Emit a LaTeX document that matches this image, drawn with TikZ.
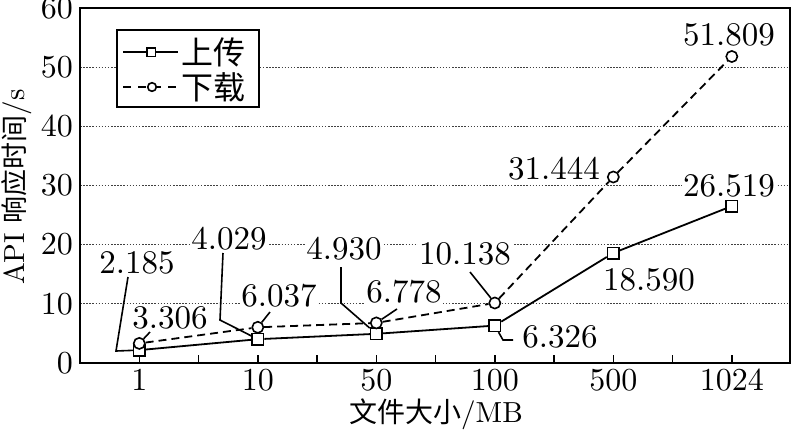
\documentclass[tikz,border=0pt]{standalone}
\usepackage{fontspec}
\setmainfont{lmroman10-regular.otf}[BoldFont=lmroman10-bold.otf]
\newfontfamily\cjk{Noto Sans CJK SC}
\begin{document}
\begin{tikzpicture}[x=1pt,y=-1pt,
  num/.style={font=\fontsize{33}{36}\selectfont, inner sep=1pt, fill=white},
  ticklab/.style={font=\fontsize{32}{36}\selectfont, inner sep=0pt},
  axtitle/.style={font=\fontsize{29}{32}\selectfont, inner sep=0pt},
  sqmark/.style={draw, rectangle, fill=white, minimum size=11.4pt, inner sep=0pt, line width=1.6pt},
  cimark/.style={draw, circle, fill=white, minimum size=11.2pt, inner sep=0pt, line width=1.6pt},
  gridline/.style={line width=0.9pt, dash pattern=on 1.5pt off 1.6pt, black!75},
  upline/.style={line width=1.8pt},
  downline/.style={line width=1.8pt, dash pattern=on 8pt off 5pt},
  leader/.style={line width=1.6pt},
  frame/.style={line width=2pt}]
\useasboundingbox (0,0) rectangle (792,429);

% grid
\foreach \v in {10,20,30,40,50}{
  \draw[gridline] (80,{363-\v*5.9167}) -- (789.5,{363-\v*5.9167});
}

% y tick labels
\foreach \v in {0,10,20,30,40,50,60}{
  \node[ticklab, anchor=east] (yl\v) at (73,{363-\v*5.9167}) {\v};
}
% x tick labels
\node[ticklab] (x1) at (139.3,380) {1};
\node[ticklab] (x2) at (257.8,380) {10};
\node[ticklab] (x3) at (376.3,380) {50};
\node[ticklab] (x4) at (494.8,380) {100};
\node[ticklab] (x5) at (613.3,380) {500};
\node[ticklab] (x6) at (731.8,380) {1024};

% axis titles
\node[axtitle, rotate=90] (ytitle) at (17,187) {API {\cjk\fontsize{27}{30}\selectfont 响应时间}/s};
\node[axtitle, anchor=base] (xtitle) at (436,422) {{\cjk\fontsize{28}{30}\selectfont 文件大小}/MB};

% data labels
\node[num] (l1) at (137,263) {2.185};
\node[num] (l2) at (170,318) {3.306};
\node[num] (l3) at (229,239) {4.029};
\node[num] (l4) at (279,296) {6.037};
\node[num] (l5) at (344,249) {4.930};
\node[num] (l6) at (404,292) {6.778};
\node[num] (l7) at (465,254) {10.138};
\node[num] (l8) at (560,337) {6.326};
\node[num] (l9) at (649,280) {18.590};
\node[num] (l10) at (554,169) {31.444};
\node[num] (l11) at (729,186) {26.519};
\node[num] (l12) at (729,35) {51.809};

% markers: upload (squares)
\node[sqmark] (u1) at (139.3,350.1) {};
\node[sqmark] (u2) at (257.8,339.2) {};
\node[sqmark] (u3) at (376.3,333.8) {};
\node[sqmark] (u4) at (494.8,325.6) {};
\node[sqmark] (u5) at (613.3,253.0) {};
\node[sqmark] (u6) at (731.8,206.1) {};
% markers: download (circles)
\node[cimark] (d1) at (139.3,343.4) {};
\node[cimark] (d2) at (257.8,327.3) {};
\node[cimark] (d3) at (376.3,322.9) {};
\node[cimark] (d4) at (494.8,303.0) {};
\node[cimark] (d5) at (613.3,177.0) {};
\node[cimark] (d6) at (731.8,56.5) {};

% series lines
\draw[upline] (u1) -- (u2) -- (u3) -- (u4) -- (u5) -- (u6);
\draw[downline] (d1) -- (d2) -- (d3) -- (d4) -- (d5) -- (d6);

% leader lines
\coordinate (a1) at (128,277);
\coordinate (k1) at (116,351);
\draw[leader] (a1) -- (k1) -- (u1);
\coordinate (a2) at (150,332);
\draw[leader] (a2) -- (d1);
\coordinate (a3) at (223,253);
\coordinate (k3) at (220,320);
\draw[leader] (a3) -- (k3) -- (u2);
\coordinate (a4) at (270,312);
\draw[leader] (a4) -- (d2);
\coordinate (a5) at (341,267);
\coordinate (k5) at (341,303);
\draw[leader] (a5) -- (k5) -- (u3);
\coordinate (a6) at (397,309);
\draw[leader] (a6) -- (d3);
\coordinate (a7) at (470,272);
\draw[leader] (a7) -- (d4);
\coordinate (k8) at (503,340);
\coordinate (a8) at (513,340);
\draw[leader] (u4) -- (k8) -- (a8);

% x ticks
\foreach \t in {139.3,198.55,257.8,317.05,376.3,435.55,494.8,554.05,613.3,672.55,731.8}{
  \draw[line width=1.4pt] (\t,363) -- (\t,355);
}

% frame
\draw[frame] (80,8) rectangle (789.5,363);

% legend
\node[draw, fill=white, line width=2pt, minimum width=142pt, minimum height=77pt, anchor=north west, inner sep=0pt] (leg) at (116,29) {};
\coordinate (s1a) at (123,52);
\coordinate (s1b) at (178,52);
\draw[upline] (s1a) -- (s1b);
\node[sqmark, minimum size=8.6pt] (lm1) at (151,52) {};
\coordinate (s2a) at (123,87);
\coordinate (s2b) at (178,87);
\draw[line width=1.8pt, dash pattern=on 8pt off 7pt] (s2a) -- (s2b);
\node[cimark, minimum size=8.6pt] (lm2) at (152,87) {};
\node[font=\fontsize{32}{36}\selectfont\cjk, anchor=west, inner sep=0pt] (lt1) at (181,52) {上传};
\node[font=\fontsize{32}{36}\selectfont\cjk, anchor=west, inner sep=0pt] (lt2) at (181,87) {下载};
\end{tikzpicture}
\end{document}
